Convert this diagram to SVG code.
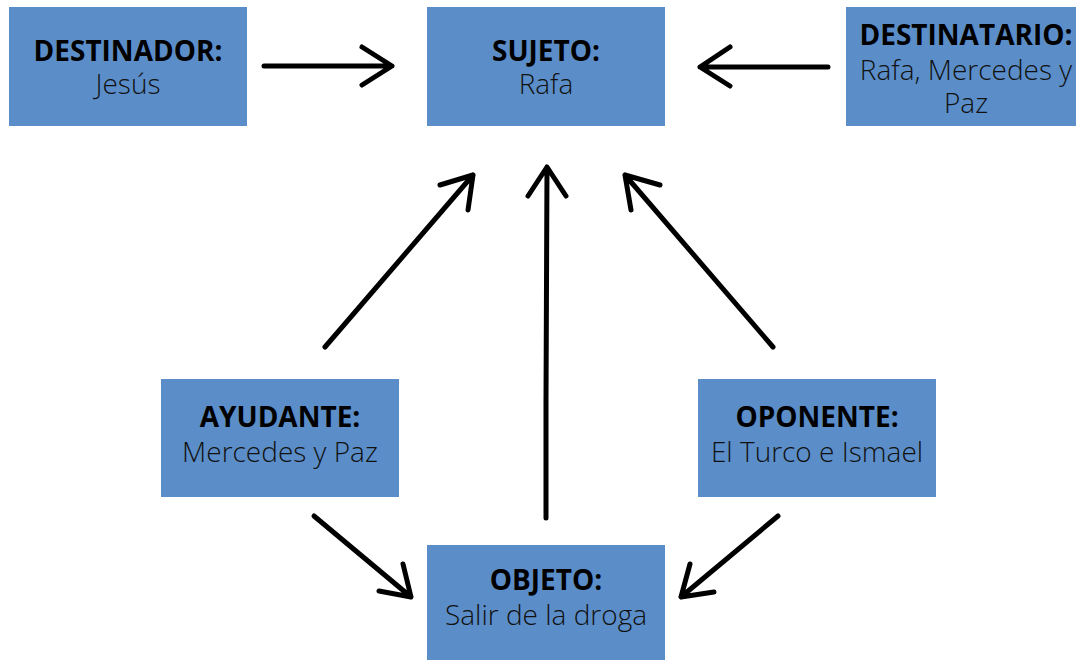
<svg xmlns="http://www.w3.org/2000/svg" width="1076" height="660" viewBox="0 0 1076 660">
<style>
.box{fill:#5b8ec9;}
.t{font-family:"Open Sans","Liberation Sans",sans-serif;font-size:28px;text-anchor:middle;}
.b{font-weight:700;fill:#000;}
.l{font-weight:300;fill:#111;}
.a{fill:none;stroke:#000;stroke-width:5;stroke-linecap:round;stroke-linejoin:round;}
</style>
<rect width="1076" height="660" fill="#fff"/>
<g id="destinador">
<rect class="box" x="9" y="7" width="238" height="119"/>
<text class="t b" x="128" y="61">DESTINADOR:</text>
<text class="t l" x="128" y="94">Jesús</text>
</g>
<g id="sujeto">
<rect class="box" x="427" y="7" width="238" height="119"/>
<text class="t b" x="546" y="61">SUJETO:</text>
<text class="t l" x="546" y="94">Rafa</text>
</g>
<g id="destinatario">
<rect class="box" x="846" y="7" width="240" height="119"/>
<text class="t b" x="966" y="45">DESTINATARIO:</text>
<text class="t l" x="966" y="80">Rafa, Mercedes y</text>
<text class="t l" x="966" y="113">Paz</text>
</g>
<g id="ayudante">
<rect class="box" x="161" y="379" width="238" height="118"/>
<text class="t b" x="280" y="427">AYUDANTE:</text>
<text class="t l" x="280" y="462">Mercedes y Paz</text>
</g>
<g id="oponente">
<rect class="box" x="698" y="379" width="238" height="118"/>
<text class="t b" x="817" y="427">OPONENTE:</text>
<text class="t l" x="817" y="462">El Turco e Ismael</text>
</g>
<g id="objeto">
<rect class="box" x="427" y="545" width="238" height="115"/>
<text class="t b" x="546" y="590">OBJETO:</text>
<text class="t l" x="546" y="625">Salir de la droga</text>
</g>
<g id="connectors">
<path class="a" d="M264,66 L392,66 M362,47 L392,66 L362,85"/>
<path class="a" d="M828,67 L700,67 M730,47 L700,67 L730,86"/>
<path class="a" d="M325,347 L473,175 M440,185 L473,175 L468,210"/>
<path class="a" d="M546,518 L546,400 L547,167 M528,196 L547,167 L566,196"/>
<path class="a" d="M773,347 L625,175 M660,185 L625,175 L631,210"/>
<path class="a" d="M314,516 L411,597 M379,591 L411,597 L403,564"/>
<path class="a" d="M778,516 L681,597 M714,592 L681,597 L690,564"/>
</g>
</svg>
